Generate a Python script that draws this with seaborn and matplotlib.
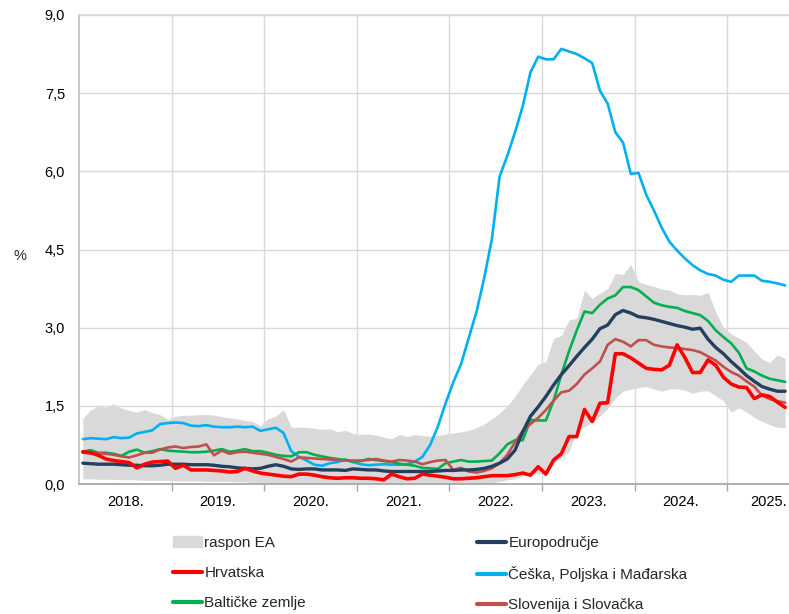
import numpy as np
import pandas as pd
import matplotlib
matplotlib.use("Agg")
import matplotlib.pyplot as plt
import seaborn as sns
from matplotlib.patches import Patch
from matplotlib.lines import Line2D
from matplotlib.ticker import FuncFormatter

# mjesečni podaci, siječanj 2018. - kolovoz 2025.
godine = ['2018.', '2019.', '2020.', '2021.', '2022.', '2023.', '2024.', '2025.']

raspon_gore = [1.26, 1.42, 1.50, 1.47, 1.54, 1.46, 1.41, 1.38, 1.43, 1.37, 1.33, 1.24,
               1.30, 1.32, 1.32, 1.33, 1.33, 1.32, 1.29, 1.27, 1.25, 1.22, 1.20, 1.12,
               1.25, 1.30, 1.43, 1.09, 1.09, 1.09, 1.07, 1.05, 1.06, 1.00, 1.03, 0.97,
               0.95, 0.96, 0.94, 0.90, 0.87, 0.95, 0.91, 0.95, 0.93, 0.92, 0.93, 0.96,
               0.98, 1.00, 1.03, 1.08, 1.15, 1.25, 1.36, 1.50, 1.68, 1.90, 2.10, 2.30,
               2.35, 2.80, 2.85, 3.15, 3.18, 3.72, 3.56, 3.66, 3.75, 4.04, 4.02, 4.22,
               3.88, 3.83, 3.79, 3.74, 3.72, 3.65, 3.63, 3.64, 3.62, 3.68, 3.30, 3.00,
               2.88, 2.80, 2.72, 2.55, 2.40, 2.33, 2.48, 2.41]
raspon_dolje = [0.10, 0.10, 0.09, 0.09, 0.09, 0.08, 0.08, 0.08, 0.07, 0.07, 0.07, 0.07,
                0.06, 0.06, 0.06, 0.06, 0.05, 0.05, 0.05, 0.05, 0.04, 0.04, 0.03, 0.03,
                0.02, 0.02, 0.02, 0.02, 0.02, 0.02, 0.01, 0.01, 0.01, 0.01, 0.01, 0.01,
                0.01, 0.01, 0.01, 0.01, 0.01, 0.01, 0.01, 0.01, 0.01, 0.01, 0.01, 0.01,
                0.01, 0.01, 0.01, 0.01, 0.01, 0.02, 0.05, 0.08, 0.10, 0.15, 0.20, 0.20,
                0.19, 0.40, 0.50, 0.62, 1.05, 1.10, 1.18, 1.30, 1.45, 1.65, 1.78, 1.82,
                1.85, 1.87, 1.82, 1.78, 1.82, 1.83, 1.80, 1.74, 1.78, 1.79, 1.69, 1.60,
                1.38, 1.46, 1.38, 1.28, 1.20, 1.14, 1.09, 1.08]
europodrucje = [0.40, 0.39, 0.38, 0.38, 0.38, 0.37, 0.36, 0.36, 0.35, 0.35, 0.36, 0.38,
                0.38, 0.38, 0.37, 0.37, 0.37, 0.36, 0.34, 0.33, 0.31, 0.30, 0.29, 0.30,
                0.34, 0.37, 0.34, 0.29, 0.28, 0.29, 0.29, 0.27, 0.27, 0.27, 0.26, 0.29,
                0.28, 0.27, 0.27, 0.25, 0.24, 0.24, 0.24, 0.24, 0.24, 0.24, 0.25, 0.26,
                0.26, 0.27, 0.27, 0.28, 0.30, 0.34, 0.40, 0.48, 0.65, 1.00, 1.30, 1.48,
                1.68, 1.90, 2.10, 2.27, 2.45, 2.62, 2.78, 2.98, 3.05, 3.25, 3.33, 3.28,
                3.21, 3.19, 3.16, 3.12, 3.08, 3.04, 3.01, 2.97, 2.99, 2.78, 2.62, 2.50,
                2.35, 2.22, 2.08, 1.97, 1.87, 1.82, 1.78, 1.78]
hrvatska = [0.62, 0.60, 0.55, 0.48, 0.45, 0.43, 0.41, 0.31, 0.38, 0.42, 0.43, 0.44,
            0.30, 0.36, 0.27, 0.27, 0.27, 0.26, 0.25, 0.23, 0.24, 0.30, 0.25, 0.21,
            0.19, 0.17, 0.15, 0.14, 0.19, 0.19, 0.17, 0.14, 0.12, 0.11, 0.12, 0.12,
            0.11, 0.11, 0.10, 0.08, 0.19, 0.14, 0.10, 0.11, 0.19, 0.17, 0.15, 0.13,
            0.10, 0.10, 0.11, 0.12, 0.14, 0.16, 0.16, 0.16, 0.18, 0.21, 0.17, 0.33,
            0.19, 0.46, 0.58, 0.91, 0.91, 1.43, 1.20, 1.55, 1.56, 2.50, 2.50, 2.42,
            2.32, 2.22, 2.20, 2.19, 2.28, 2.67, 2.43, 2.14, 2.14, 2.38, 2.28, 2.05,
            1.92, 1.86, 1.85, 1.64, 1.71, 1.68, 1.57, 1.47]
cpm = [0.86, 0.88, 0.87, 0.86, 0.90, 0.88, 0.89, 0.97, 1.00, 1.03, 1.15, 1.17,
       1.18, 1.17, 1.12, 1.11, 1.13, 1.10, 1.09, 1.09, 1.10, 1.09, 1.10, 1.02,
       1.05, 1.08, 0.98, 0.63, 0.52, 0.45, 0.37, 0.35, 0.40, 0.42, 0.47, 0.42,
       0.38, 0.36, 0.37, 0.38, 0.37, 0.37, 0.38, 0.43, 0.52, 0.75, 1.10, 1.55,
       1.95, 2.30, 2.80, 3.30, 3.95, 4.70, 5.90, 6.30, 6.75, 7.25, 7.90, 8.20,
       8.15, 8.15, 8.35, 8.30, 8.25, 8.17, 8.08, 7.55, 7.30, 6.75, 6.55, 5.95,
       5.97, 5.55, 5.25, 4.92, 4.65, 4.48, 4.33, 4.20, 4.10, 4.03, 4.00, 3.92,
       3.88, 4.00, 4.00, 4.00, 3.90, 3.88, 3.85, 3.81]
balticke = [0.62, 0.65, 0.60, 0.60, 0.58, 0.54, 0.62, 0.66, 0.60, 0.63, 0.67, 0.64,
            0.63, 0.62, 0.61, 0.61, 0.62, 0.64, 0.67, 0.62, 0.64, 0.67, 0.63, 0.63,
            0.60, 0.56, 0.54, 0.53, 0.61, 0.61, 0.56, 0.53, 0.50, 0.48, 0.46, 0.43,
            0.44, 0.48, 0.46, 0.44, 0.42, 0.39, 0.37, 0.35, 0.31, 0.30, 0.29, 0.40,
            0.43, 0.46, 0.43, 0.43, 0.44, 0.45, 0.59, 0.76, 0.84, 0.84, 1.23, 1.22,
            1.22, 1.60, 2.10, 2.55, 2.95, 3.31, 3.28, 3.44, 3.56, 3.62, 3.78, 3.78,
            3.72, 3.60, 3.48, 3.43, 3.40, 3.38, 3.32, 3.28, 3.24, 3.13, 2.95, 2.82,
            2.70, 2.52, 2.22, 2.16, 2.08, 2.02, 1.99, 1.96]
slo_svk = [0.60, 0.59, 0.59, 0.58, 0.56, 0.53, 0.51, 0.55, 0.60, 0.60, 0.66, 0.70,
           0.72, 0.69, 0.71, 0.72, 0.76, 0.55, 0.64, 0.58, 0.61, 0.62, 0.60, 0.58,
           0.56, 0.52, 0.48, 0.43, 0.51, 0.50, 0.49, 0.48, 0.47, 0.46, 0.45, 0.45,
           0.45, 0.46, 0.48, 0.45, 0.43, 0.46, 0.45, 0.43, 0.38, 0.42, 0.45, 0.46,
           0.27, 0.31, 0.24, 0.22, 0.25, 0.30, 0.40, 0.56, 0.80, 1.02, 1.15, 1.27,
           1.42, 1.60, 1.76, 1.79, 1.92, 2.10, 2.22, 2.35, 2.67, 2.78, 2.73, 2.64,
           2.76, 2.76, 2.67, 2.64, 2.62, 2.61, 2.59, 2.57, 2.53, 2.45, 2.37, 2.25,
           2.15, 2.08, 1.97, 1.87, 1.70, 1.63, 1.59, 1.56]

df = pd.DataFrame({'mjesec': np.arange(len(europodrucje)),
                   'gore': raspon_gore, 'dolje': raspon_dolje,
                   'Europodručje': europodrucje, 'Hrvatska': hrvatska,
                   'Češka, Poljska i Mađarska': cpm, 'Baltičke zemlje': balticke,
                   'Slovenija i Slovačka': slo_svk})

sns.set_theme(style='white')
plt.rcParams['font.family'] = ['Liberation Sans', 'DejaVu Sans']

boje = {'Češka, Poljska i Mađarska': ('#00B0F0', 1.9),
        'Baltičke zemlje': ('#00B050', 1.9),
        'Slovenija i Slovačka': ('#C0504D', 1.9),
        'Europodručje': ('#243F60', 2.4),
        'Hrvatska': ('#FF0000', 2.6)}

fig = plt.figure(figsize=(7.89, 6.14), dpi=100)
ax = fig.add_axes([79/789, 130/614, 710/789, 469/614])

ax.fill_between(df.mjesec, df.dolje, df.gore, color='#D9D9D9', lw=0, zorder=1)
for ime, (boja, lw) in boje.items():
    sns.lineplot(data=df, x='mjesec', y=ime, color=boja, lw=lw, ax=ax, zorder=3)

n = len(df)
ax.set_xlim(-0.5, n - 0.5)
ax.set_ylim(0, 9)
ax.set_yticks(np.arange(0, 9.01, 1.5))
ax.yaxis.set_major_formatter(FuncFormatter(lambda v, p: f'{v:.1f}'.replace('.', ',')))
ax.set_xticks(np.arange(11.5, n, 12))
ax.set_xticklabels([])
# sredine godina; zadnja (nepotpuna) godina malo ulijevo da stane
sredine = list(np.arange(5.5, 5.5 + 12 * (len(godine) - 1), 12)) + [88.9]
ax.set_xticks(sredine, minor=True)
ax.set_xticklabels(godine, minor=True)
ax.tick_params(axis='x', which='major', length=5, width=1, color='#A6A6A6', direction='out', bottom=True)
ax.tick_params(axis='x', which='minor', length=0, pad=8, labelsize=10.5, colors='black')
ax.tick_params(axis='y', length=0, pad=10, labelsize=10.5, colors='black')
ax.set_xlabel('')
ax.set_ylabel('')
ax.grid(True, which='major', color='#D9D9D9', lw=1)
ax.set_axisbelow(True)
ax.spines['right'].set_visible(False)
ax.spines['top'].set_color('#D9D9D9')
ax.spines['left'].set_color('#BFBFBF')
ax.spines['bottom'].set_color('#A6A6A6')

fig.text(20/789, 1 - 256/614, '%', ha='center', va='center', fontsize=10.5)

def linija(ime):
    return Line2D([0], [0], color=boje[ime][0], lw=3)

stupac1 = [Patch(color='#D9D9D9'), linija('Hrvatska'), linija('Baltičke zemlje')]
stupac2 = [linija('Europodručje'), linija('Češka, Poljska i Mađarska'), linija('Slovenija i Slovačka')]
kw = dict(loc='upper left', frameon=False, fontsize=11, handlelength=1.9,
          handletextpad=0.15, labelspacing=1.05, borderpad=0, borderaxespad=0)
leg1 = fig.legend(stupac1, ['raspon EA', 'Hrvatska', 'Baltičke zemlje'],
                  bbox_to_anchor=(173/789, 1 - 536/614), **kw)
fig.legend(stupac2, ['Europodručje', 'Češka, Poljska i Mađarska', 'Slovenija i Slovačka'],
           bbox_to_anchor=(477/789, 1 - 536/614), **kw)

fig.savefig('out.png', dpi=100)
